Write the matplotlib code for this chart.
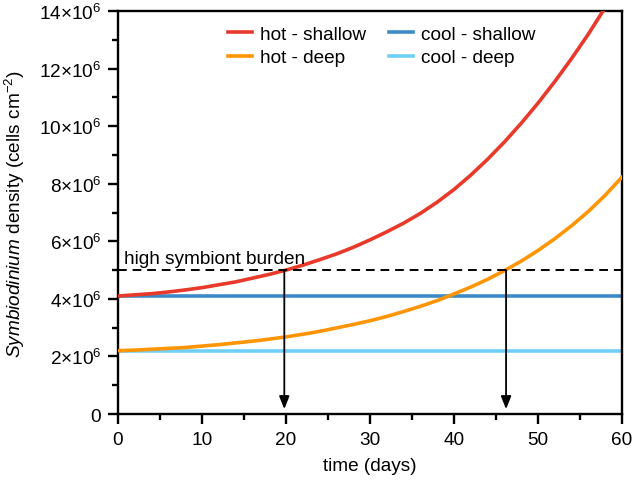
import matplotlib
matplotlib.use("Agg")
import matplotlib.pyplot as plt
from matplotlib.ticker import MultipleLocator, FuncFormatter

plt.rcParams['font.family'] = ['Liberation Sans', 'DejaVu Sans']
plt.rcParams['mathtext.fontset'] = 'custom'
plt.rcParams['mathtext.rm'] = 'Liberation Sans'
plt.rcParams['mathtext.it'] = 'Liberation Sans:italic'
plt.rcParams['mathtext.default'] = 'regular'

# Data, densities in 10^6 cells cm^-2
time_days = [0, 2, 4, 6, 8, 10, 12, 14, 16, 18, 20, 22, 24, 26, 28, 30,
             32, 34, 36, 38, 40, 42, 44, 46, 48, 50, 52, 54, 56, 58, 60]
hot_shallow = [4.10, 4.14, 4.18, 4.24, 4.31, 4.39, 4.49, 4.59, 4.72, 4.85, 5.00,
               5.17, 5.36, 5.56, 5.79, 6.05, 6.33, 6.63, 6.97, 7.36, 7.80,
               8.30, 8.85, 9.45, 10.10, 10.80, 11.55, 12.35, 13.20, 14.12, 15.10]
hot_deep = [2.20, 2.22, 2.25, 2.28, 2.31, 2.36, 2.41, 2.47, 2.53, 2.60, 2.68,
            2.77, 2.87, 2.99, 3.11, 3.24, 3.39, 3.56, 3.74, 3.94, 4.17,
            4.41, 4.68, 4.98, 5.31, 5.68, 6.09, 6.54, 7.04, 7.60, 8.23]
cool_shallow_level = 4.11
cool_deep_level = 2.20
burden_level = 5.0
burden_times = [19.8, 46.2]

scale = 1e6
fs = 13.7

fig = plt.figure(figsize=(6.33, 4.81), dpi=100)
ax = fig.add_axes([0.1864, 0.1372, 0.7962, 0.8378])

lw = 2.6
ax.plot(time_days, [v * scale for v in hot_shallow], color='#e8392b', lw=lw, label='hot - shallow', zorder=3)
ax.plot(time_days, [v * scale for v in hot_deep], color='#ff9505', lw=lw, label='hot - deep', zorder=3)
ax.plot([time_days[0], time_days[-1]], [cool_shallow_level * scale] * 2, color='#3d8bc6', lw=lw,
        label='cool - shallow', zorder=2)
ax.plot([time_days[0], time_days[-1]], [cool_deep_level * scale] * 2, color='#6fcff7', lw=lw,
        label='cool - deep', zorder=2)

ax.plot([0, 60], [burden_level * scale] * 2, color='black', lw=1.4, ls=(0, (4.5, 3)), zorder=4)
ax.text(0.7, burden_level * scale + 0.12 * scale, 'high symbiont burden', fontsize=fs, va='bottom', ha='left')

for t in burden_times:
    ax.annotate('', xy=(t, 0.17 * scale), xytext=(t, burden_level * scale),
                arrowprops=dict(arrowstyle='-|>,head_length=0.55,head_width=0.22', color='black', lw=1.3,
                                shrinkA=0, shrinkB=0, mutation_scale=14), zorder=5)

ax.set_xlim(0, 60)
ax.set_ylim(0, 14 * scale)
ax.xaxis.set_major_locator(MultipleLocator(10))
ax.xaxis.set_minor_locator(MultipleLocator(5))
ax.yaxis.set_major_locator(MultipleLocator(2 * scale))
ax.yaxis.set_minor_locator(MultipleLocator(1 * scale))


def yfmt(v, pos):
    if v == 0:
        return '0'
    return r'$%d{\times}10^{6}$' % round(v / scale)


ax.yaxis.set_major_formatter(FuncFormatter(yfmt))

for s in ax.spines.values():
    s.set_linewidth(1.7)
ax.tick_params(which='major', direction='out', length=7, width=1.7, labelsize=fs, pad=5)
ax.tick_params(which='minor', direction='out', length=4, width=1.7)

ax.set_xlabel('time (days)', fontsize=fs, labelpad=7)
ax.set_ylabel(r'$\it{Symbiodinium}$ density (cells cm$^{-2}$)', fontsize=fs, labelpad=8.5)

leg = ax.legend(ncol=2, loc='upper left', bbox_to_anchor=(0.203, 0.983), frameon=False, fontsize=fs,
                handlelength=1.26, handletextpad=0.42, columnspacing=1.2, labelspacing=0.33,
                borderaxespad=0.0, borderpad=0.4)

fig.savefig('out.png', dpi=100)
